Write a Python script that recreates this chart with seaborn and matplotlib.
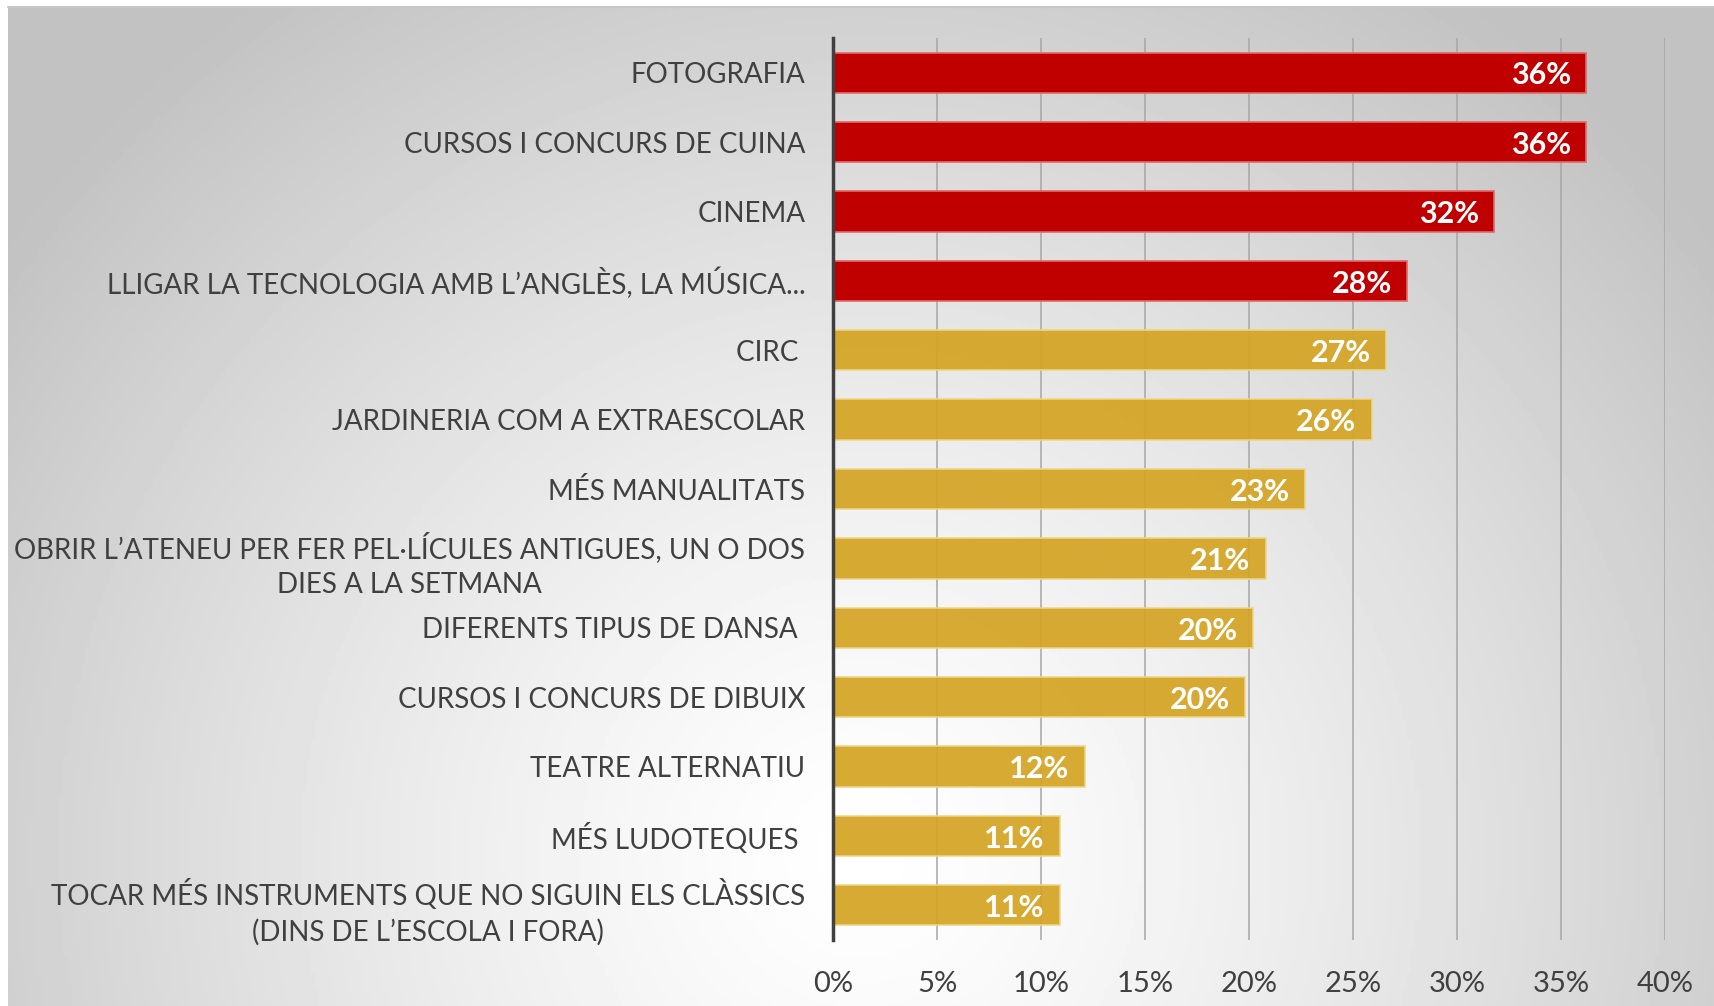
import numpy as np
import pandas as pd
import matplotlib
matplotlib.use("Agg")
import matplotlib.pyplot as plt
import seaborn as sns

# data
categories = [
    "FOTOGRAFIA",
    "CURSOS I CONCURS DE CUINA",
    "CINEMA",
    "LLIGAR LA TECNOLOGIA AMB L\u2019ANGLÈS, LA MÚSICA...",
    "CIRC ",
    "JARDINERIA COM A EXTRAESCOLAR",
    "MÉS MANUALITATS",
    "OBRIR L\u2019ATENEU PER FER PEL·LÍCULES ANTIGUES, UN O DOS\nDIES A LA SETMANA",
    "DIFERENTS TIPUS DE DANSA ",
    "CURSOS I CONCURS DE DIBUIX",
    "TEATRE ALTERNATIU",
    "MÉS LUDOTEQUES ",
    "TOCAR MÉS INSTRUMENTS QUE NO SIGUIN ELS CLÀSSICS\n(DINS DE L\u2019ESCOLA I FORA)",
]
values = [36.2, 36.2, 31.8, 27.6, 26.6, 25.9, 22.7, 20.8, 20.2, 19.8, 12.1, 10.9, 10.9]
labels = ["36%", "36%", "32%", "28%", "27%", "26%", "23%", "21%", "20%", "20%", "12%", "11%", "11%"]
groups = ["top"] * 4 + ["rest"] * 9
xticks = [0, 5, 10, 15, 20, 25, 30, 35, 40]

red = "#C00000"
gold = "#D4A424"

df = pd.DataFrame({"cat": categories, "val": values, "grp": groups})

sns.set_theme(style="white")
plt.rcParams["font.family"] = ["Lato", "DejaVu Sans"]

W, H = 1714, 1006
fig = plt.figure(figsize=(W / 100, H / 100), dpi=100)
fig.patch.set_facecolor("white")

# gradient background panel
bg = fig.add_axes([8 / W, 0, 1 - 8 / W, (H - 7) / H], zorder=-5)
gx, gy = np.meshgrid(np.linspace(0, 1, 400), np.linspace(0, 1, 300))
d = np.sqrt(((gx - 0.5) / 0.62) ** 2 + ((gy - 0.85) / 1.05) ** 2)
shade = 1 - 0.24 * np.clip(d, 0, 1) ** 1.3
bg.imshow(shade, cmap="gray", vmin=0, vmax=1, aspect="auto", extent=[0, 1, 0, 1], origin="upper")
bg.axis("off")
fig.add_artist(plt.Line2D([8 / W, 1], [(H - 7) / H] * 2, color="#C8C8C8", lw=1.5))

ax = fig.add_axes([833 / W, 66 / H, (1665 - 833) / W, (968 - 66) / H])
ax.patch.set_alpha(0)

sns.barplot(data=df, x="val", y="cat", hue="grp", palette={"top": red, "rest": gold},
            dodge=False, legend=False, width=0.58, saturation=1, ax=ax, zorder=3)

for bar, grp in zip(ax.patches, groups):
    if grp == "top":
        bar.set_edgecolor("#E06A6A")
    else:
        bar.set_edgecolor("#EED688")
        bar.set_alpha(0.93)
    bar.set_linewidth(1.2)

for i, (v, lab) in enumerate(zip(values, labels)):
    ax.annotate(lab, (v, i), xytext=(-11, -2), textcoords="offset points",
                ha="right", va="center", color="white", fontsize=22, fontweight="bold", zorder=5)

ax.set_xlim(0, 40)
ax.set_ylim(len(categories) - 0.5, -0.5)
ax.set_xticks(xticks)
ax.set_xticklabels([f"{t}%" for t in xticks])
ax.set_xlabel("")
ax.set_ylabel("")

for t in xticks[1:]:
    ax.axvline(t, color="#A6A6A6", lw=1.1, zorder=1)

for s in ["top", "right", "bottom"]:
    ax.spines[s].set_visible(False)
ax.spines["left"].set_color("#404040")
ax.spines["left"].set_linewidth(2.5)
ax.spines["left"].set_zorder(6)

ax.tick_params(axis="y", length=0, pad=20, labelsize=20, labelcolor="#404040")
ax.tick_params(axis="x", length=0, pad=22, labelsize=21, labelcolor="#404040")
for t in ax.get_yticklabels():
    t.set_multialignment("center")
    t.set_linespacing(1.4)

fig.savefig("out.png", dpi=100)
